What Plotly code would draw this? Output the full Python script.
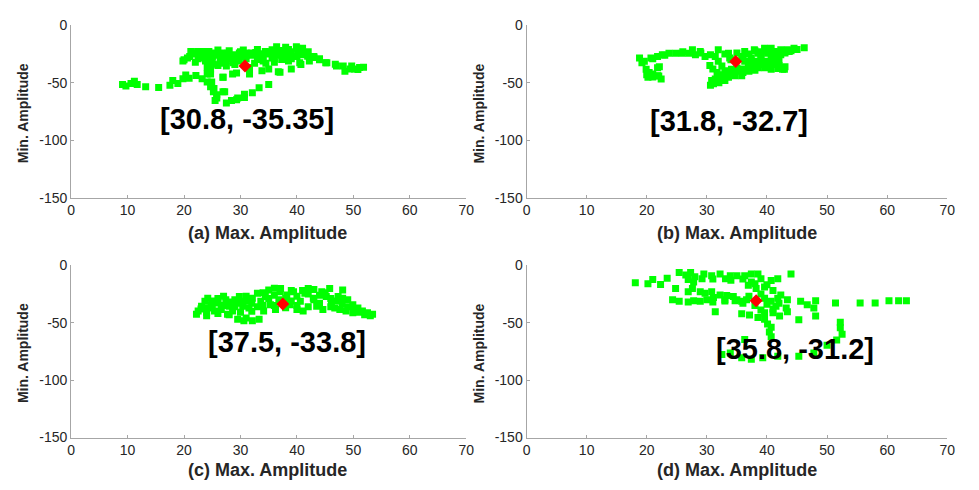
import plotly.graph_objects as go

# ---------------- data ----------------
a_x = [9.1, 9.7, 10.6, 11.2, 11.7, 13.2, 15.5, 17.5, 18.0, 18.9, 19.8, 20.3, 20.9, 22.1, 23.2, 24.1, 24.7, 25.2, 25.8, 25.5,
       27.5, 28.4, 29.5, 30.7, 27.2, 24.7, 24.4, 25.2, 24.1, 26.9, 29.3, 19.8, 20.6, 21.2, 22.4, 23.5, 22.9, 24.4, 25.5, 26.7,
       27.8, 28.7, 29.8, 31.0, 26.4, 27.5, 28.7, 29.8, 27.5, 28.4, 32.7, 34.4, 35.6, 36.4, 37.0, 37.9, 38.4, 39.9, 40.2, 41.0,
       41.9, 42.2, 40.5, 39.0, 37.0, 35.0, 33.8, 31.6, 31.6, 45.1, 46.8, 48.2, 49.4, 50.2, 51.1, 49.7, 33.3, 35.6, 37.3,
       29.3, 30.7, 32.1, 33.3, 35.0, 36.7, 40.7, 23.0, 25.0, 27.0, 30.0, 32.0, 33.5, 35.0, 36.0, 38.5, 39.0, 34.0, 31.0,
       30.5, 28.0, 26.0, 33.0, 41.0, 42.0, 43.0, 44.0, 36.0, 34.5, 32.5, 38.5, 21.5, 22.5, 23.8, 48.5, 50.8, 51.8, 45.3,
       47.0, 24.1, 24.7, 24.9, 25.3, 25.8, 26.9, 28.6, 26.9,
       22.0, 24.0, 26.0, 29.0, 31.0, 33.0, 35.0, 37.0, 39.0, 40.0, 41.0, 38.0, 36.0, 34.0, 32.0, 30.0, 28.0, 27.0, 29.0,
       26.0, 25.0, 23.0, 21.0, 20.0, 22.0, 34.0, 36.0, 39.0, 40.0, 43.0, 44.0]
a_y = [-51.5, -52.7, -50.7, -48.7, -51.5, -53.5, -54.0, -52.1, -47.9, -50.7, -46.5, -43.1, -46.0, -43.7, -46.5, -49.3, -53.5, -57.7, -63.3, -65.5,
       -67.5, -65.5, -63.3, -60.0, -57.7, -38.0, -35.3, -33.9, -42.3, -45.1, -41.4, -31.1, -28.3, -22.7, -22.7, -22.7, -26.9, -22.7, -24.1, -24.1,
       -24.1, -25.5, -24.1, -24.1, -29.7, -31.1, -32.5, -31.1, -35.3, -26.9, -23.5, -22.7, -21.3, -18.5, -21.8, -24.1, -26.9, -18.5, -22.7, -25.5,
       -26.9, -31.1, -32.5, -38.0, -40.9, -38.0, -39.5, -42.3, -36.7, -32.5, -33.9, -35.3, -38.0, -38.0, -36.7, -35.3, -29.7, -28.3, -29.7,
       -64.7, -62.8, -58.6, -54.3, -51.5, -40.3, -34.0, -25.0, -27.0, -27.0, -27.0, -26.0, -25.0, -25.0, -24.0, -21.0, -25.0, -27.0, -29.0,
       -21.5, -22.0, -21.5, -21.0, -20.0, -23.0, -28.0, -30.0, -32.0, -33.0, -33.0, -31.0, -25.0, -29.0, -31.0, -40.0, -38.5, -36.5, -32.5,
       -35.3, -36.7, -42.3, -49.3, -54.9, -60.5, -45.1, -42.3, -57.7,
       -24.0, -26.0, -26.0, -28.0, -26.0, -27.0, -23.0, -26.0, -23.0, -20.0, -24.0, -19.0, -22.0, -25.0, -24.0, -23.0, -29.0, -33.0, -34.0,
       -35.0, -30.0, -28.0, -27.0, -30.0, -32.0, -31.0, -29.0, -29.0, -27.0, -27.0, -29.0]
a_peak = [30.8, -35.35]

b_x = [18.8, 19.6, 19.2, 20.7, 21.8, 22.1, 22.6, 23.7, 24.8, 25.9, 27.0, 27.6, 28.1, 28.9, 29.7, 30.6, 31.4, 31.9, 31.9, 32.5,
       31.7, 31.4, 31.1, 32.5, 33.6, 34.7, 35.8, 33.0, 34.1, 33.6, 33.8, 35.8, 36.3, 36.9, 37.4, 38.5, 39.6, 40.7, 41.8, 42.6,
       37.4, 38.5, 39.0, 40.1, 41.2, 42.3, 43.4, 37.9, 39.6, 40.7, 38.2, 39.6, 40.7, 41.8, 36.3, 19.9, 20.4, 21.0, 21.8, 22.4,
       20.2, 44.5, 46.2, 43.7, 42.3, 41.2, 42.9, 30.5, 31.0, 32.0, 30.8, 32.0, 33.0, 34.0, 35.0, 36.0, 37.0, 38.0, 39.0, 38.0,
       40.0, 41.0, 42.0, 30.6, 21.8,
       33.0, 34.0, 35.0, 37.0, 38.0, 39.0, 40.0, 41.0, 42.0, 43.0, 44.0, 45.0, 36.0, 37.0, 38.0, 40.0, 41.0, 42.0, 43.0, 39.0,
       36.0, 35.0, 33.0, 32.0, 20.0, 21.0, 22.0, 21.0, 23.0, 26.0, 29.0]
b_y = [-28.4, -31.2, -32.6, -28.4, -27.0, -36.0, -25.5, -24.2, -24.2, -24.2, -24.2, -21.3, -25.5, -22.7, -27.0, -25.5, -27.0, -21.3, -31.2, -35.4,
       -41.0, -46.6, -50.8, -46.6, -45.2, -43.8, -43.8, -39.6, -38.2, -24.2, -28.4, -27.0, -31.2, -35.4, -36.8, -36.8, -36.8, -38.2, -37.6, -38.2,
       -28.4, -24.2, -27.0, -24.2, -22.7, -21.3, -21.3, -21.3, -19.9, -19.9, -31.2, -31.2, -29.8, -27.0, -22.7, -38.2, -41.0, -42.4, -43.8, -46.6,
       -45.2, -20.0, -19.4, -22.7, -25.5, -28.4, -38.2, -35.0, -38.0, -43.0, -48.0, -50.0, -48.0, -42.0, -40.0, -41.0, -40.0, -39.0, -34.0, -33.0,
       -33.0, -31.0, -30.0, -52.2, -36.8,
       -25.0, -30.0, -24.0, -25.0, -22.0, -23.0, -22.0, -25.0, -23.0, -24.0, -22.0, -21.0, -28.0, -32.0, -34.0, -35.0, -34.0, -35.0, -36.0, -29.0,
       -38.0, -37.0, -44.0, -48.0, -43.0, -45.0, -44.0, -29.0, -26.0, -23.0, -24.0]
b_peak = [34.8, -31.5]

c_x = [22.5, 22.2, 23.1, 23.7, 24.2, 24.8, 25.4, 26.0, 26.6, 27.4, 28.0, 28.6, 29.2, 29.8, 30.4, 30.9, 31.5, 32.1, 33.0, 33.6,
       34.4, 35.0, 35.3, 36.2, 38.2, 39.4, 38.8, 40.0, 40.6, 41.4, 42.0, 42.9, 43.5, 44.4, 45.2, 46.1, 46.7, 47.3, 48.1, 49.0,
       49.9, 50.8, 51.6, 52.5, 53.4, 47.6, 48.7, 49.9, 29.5, 30.6, 32.1, 33.3, 37.1, 36.8, 27.7, 24.2, 34.1, 41.1, 44.6, 45.8,
       48.1,
       23.0, 24.0, 25.0, 26.0, 27.0, 28.0, 29.0, 30.0, 31.0, 32.0, 33.0, 34.0, 35.0, 36.0, 37.0, 38.0, 39.0, 40.0, 41.0, 42.0,
       43.0, 44.0, 45.0, 46.0, 47.0, 48.0, 49.0, 50.0, 51.0, 52.0, 53.0, 46.0, 44.0, 42.0, 40.0, 38.0, 36.0, 34.0, 32.0, 30.0,
       28.0, 26.0, 24.0, 31.0, 39.0, 43.0, 36.0, 29.0, 27.0, 25.0]
c_y = [-39.9, -42.7, -35.6, -31.4, -37.1, -34.3, -39.9, -32.9, -38.5, -30.1, -35.6, -39.9, -31.4, -27.2, -35.6, -31.4, -37.1, -28.6, -24.4, -31.4,
       -27.2, -21.6, -34.3, -38.5, -25.8, -23.0, -34.3, -38.5, -31.4, -24.4, -20.2, -28.6, -35.6, -23.0, -27.2, -32.9, -37.1, -27.2, -28.6, -30.1,
       -34.3, -37.1, -39.9, -41.3, -42.7, -38.5, -39.9, -41.3, -46.9, -48.3, -48.3, -46.9, -20.2, -30.1, -42.7, -28.6, -39.9, -39.9, -38.5, -20.2,
       -21.6,
       -38.0, -41.0, -36.0, -29.0, -35.0, -32.0, -36.0, -33.0, -27.0, -33.0, -36.0, -24.0, -29.0, -26.0, -23.0, -29.0, -31.0, -27.0, -22.0, -25.0,
       -30.0, -26.0, -24.0, -29.0, -31.0, -34.0, -36.0, -39.0, -41.0, -43.0, -44.0, -36.0, -33.0, -36.0, -35.0, -37.0, -35.0, -35.0, -40.0, -41.0,
       -43.0, -42.0, -44.0, -46.0, -22.0, -21.0, -20.0, -30.0, -27.0, -31.0]
c_peak = [37.5, -33.8]

d_x = [18.1, 20.2, 21.0, 22.3, 23.4, 25.4, 26.5, 27.3, 26.9, 27.8, 29.5, 29.2, 30.8, 32.2, 33.1, 33.9, 35.0, 36.3, 37.4, 38.5,
       39.0, 37.4, 36.9, 38.2, 39.6, 40.7, 41.8, 24.8, 26.9, 27.6, 28.9, 29.7, 30.8, 32.2, 33.3, 34.4, 24.3, 25.4, 26.9, 27.8,
       28.9, 30.0, 31.1, 34.7, 35.8, 36.6, 39.6, 40.7, 41.8, 41.5, 31.4, 35.8, 37.1, 38.5, 39.6, 40.1, 40.7, 40.4, 40.7, 39.6,
       36.3, 32.5, 33.9, 35.8, 37.4, 39.3, 41.8, 41.0, 42.1, 43.2, 44.0, 42.3, 43.4, 45.6, 46.7, 48.1, 47.8, 48.1, 43.4, 45.3,
       51.4, 52.2, 52.2, 52.5, 55.5, 58.0, 60.3, 61.9, 63.2, 51.6, 50.0, 45.3, 47.8,
       28.0, 31.0, 34.0, 36.0, 38.0, 40.0, 41.0, 39.0, 37.0, 35.0, 33.0, 36.0, 38.0, 40.0, 42.0, 41.0, 39.0, 33.0, 31.0]
d_y = [-15.2, -16.0, -12.4, -16.8, -11.2, -6.2, -8.4, -6.2, -12.4, -14.6, -7.6, -11.8, -9.0, -7.6, -11.8, -9.0, -9.0, -9.0, -7.6, -7.6,
       -11.8, -14.6, -17.4, -20.2, -18.8, -13.2, -11.8, -20.2, -23.0, -20.2, -23.0, -24.4, -23.0, -25.8, -26.4, -27.2, -30.1, -31.4, -32.0, -30.9,
       -31.4, -30.1, -28.1, -30.9, -31.4, -30.1, -28.6, -31.4, -28.6, -35.6, -40.4, -42.1, -43.2, -45.5, -46.9, -51.1, -53.9, -58.1, -62.3, -41.3,
       -64.6, -77.8, -76.4, -80.6, -81.9, -80.6, -79.2, -41.3, -44.1, -37.1, -7.6, -25.8, -30.1, -31.4, -34.3, -30.9, -37.1, -44.1, -40.4, -47.4,
       -32.9, -49.7, -54.5, -60.1, -32.9, -32.9, -30.9, -30.9, -30.9, -65.1, -69.6, -79.2, -76.4,
       -10.0, -12.0, -13.0, -12.0, -16.0, -17.0, -22.0, -25.0, -27.0, -30.0, -30.0, -33.0, -35.0, -34.0, -33.0, -38.0, -39.0, -31.0, -32.0]
d_peak = [38.2, -30.9]

peak_labels = ["[30.8, -35.35]", "[31.8, -32.7]", "[37.5, -33.8]", "[35.8, -31.2]"]
label_pos = [(31.2, -81.5), (33.7, -83.4), (38.3, -66.6), (44.7, -73.3)]
x_titles = ["(a) Max. Amplitude", "(b) Max. Amplitude", "(c) Max. Amplitude", "(d) Max. Amplitude"]
y_title = "Min. Amplitude"
x_ticks = [0, 10, 20, 30, 40, 50, 60, 70]
x_ticktext = ["0", "10", "20", "30", "40", "50", "60", "70"]
y_ticks = [-150, -100, -50, 0]
y_ticktext = ["-150", "-100", "-50", "0"]

# ---------------- figure ----------------
W, H = 979, 490
panels = [(a_x, a_y, a_peak), (b_x, b_y, b_peak), (c_x, c_y, c_peak), (d_x, d_y, d_peak)]
xdom = [[68 / W, 468 / W], [529 / W, 955 / W], [68 / W, 468 / W], [529 / W, 955 / W]]
ydom = [[1 - 196 / H, 1 - 18 / H], [1 - 196 / H, 1 - 18 / H], [1 - 444 / H, 1 - 266 / H], [1 - 444 / H, 1 - 266 / H]]

FONT = "Arial, Liberation Sans, Helvetica, sans-serif"
LINE = "#a6a6a6"
TXT = "#262626"

fig = go.Figure()
layout = dict(width=W, height=H, margin=dict(l=0, r=0, t=0, b=0),
              paper_bgcolor="white", plot_bgcolor="white", showlegend=False,
              font=dict(family=FONT, color=TXT))
annotations = []
for i, (px, py, pk) in enumerate(panels):
    n = "" if i == 0 else str(i + 1)
    fig.add_trace(go.Scatter(x=px, y=py, mode="markers", xaxis="x" + n, yaxis="y" + n,
                             marker=dict(symbol="square", size=7, color="#00ff00", line=dict(width=0))))
    fig.add_trace(go.Scatter(x=[pk[0]], y=[pk[1]], mode="markers", xaxis="x" + n, yaxis="y" + n,
                             marker=dict(symbol="diamond", size=10, color="#ff0000", line=dict(width=0))))
    layout["xaxis" + n] = dict(domain=xdom[i], range=[0, 70], anchor="y" + n, showgrid=False, zeroline=False,
                               showline=True, linecolor=LINE, linewidth=1, ticks="inside", ticklen=3,
                               tickcolor=LINE, tickvals=x_ticks, ticktext=x_ticktext,
                               tickfont=dict(size=14, color=TXT, family=FONT))
    layout["yaxis" + n] = dict(domain=ydom[i], range=[-150, 0], anchor="x" + n, showgrid=False, zeroline=False,
                               showline=True, linecolor=LINE, linewidth=1, ticks="inside", ticklen=3,
                               tickcolor=LINE, tickvals=y_ticks, ticktext=y_ticktext,
                               tickfont=dict(size=14, color=TXT, family=FONT))
    annotations.append(dict(x=label_pos[i][0], y=label_pos[i][1], xref="x" + n, yref="y" + n,
                            text=peak_labels[i], showarrow=False,
                            font=dict(size=29, color="#000000", family=FONT, weight="bold")))

xt_pos = [(267, 233), (742, 233), (267, 478), (742, 478)]
yt_pos = [(20, 109), (481, 109), (20, 357), (481, 357)]
for i in range(4):
    annotations.append(dict(x=xt_pos[i][0] / W, y=1 - xt_pos[i][1] / H, xref="paper", yref="paper",
                            text=x_titles[i], showarrow=False, xanchor="center", yanchor="middle",
                            font=dict(size=18, color=TXT, family=FONT, weight="bold")))
    annotations.append(dict(x=yt_pos[i][0] / W, y=1 - yt_pos[i][1] / H, xref="paper", yref="paper",
                            text=y_title, showarrow=False, textangle=-90, xanchor="center", yanchor="middle",
                            font=dict(size=14, color=TXT, family=FONT, weight="bold")))
layout["annotations"] = annotations
fig.update_layout(**layout)
fig.write_html("out.html")
